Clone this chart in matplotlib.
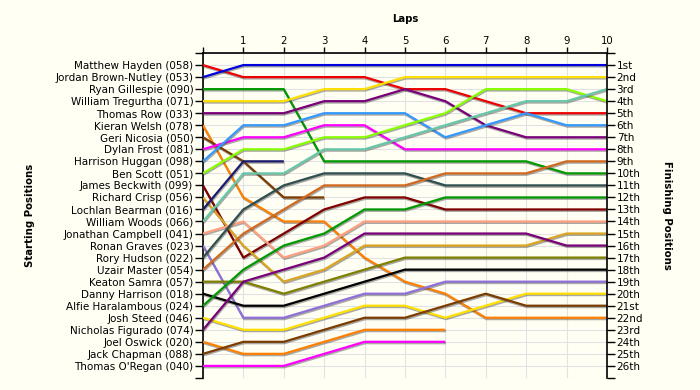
import numpy as np
import matplotlib
matplotlib.use('Agg')
import matplotlib.pyplot as plt
import matplotlib.patheffects as pe

laps = list(range(0, 11))

starters = ['Matthew Hayden (058)', 'Jordan Brown-Nutley (053)', 'Ryan Gillespie (090)',
            'William Tregurtha (071)', 'Thomas Row (033)', 'Kieran Welsh (078)',
            'Geri Nicosia (050)', 'Dylan Frost (081)', 'Harrison Huggan (098)',
            'Ben Scott (051)', 'James Beckwith (099)', 'Richard Crisp (056)',
            'Lochlan Bearman (016)', 'William Woods (066)', 'Jonathan Campbell (041)',
            'Ronan Graves (023)', 'Rory Hudson (022)', 'Uzair Master (054)',
            'Keaton Samra (057)', 'Danny Harrison (018)', 'Alfie Haralambous (024)',
            'Josh Steed (046)', 'Nicholas Figurado (074)', 'Joel Oswick (020)',
            'Jack Chapman (088)', "Thomas O'Regan (040)"]

finish_labels = ['1st', '2nd', '3rd'] + ['%dth' % i for i in range(4, 21)] + \
                ['21st', '22nd', '23rd', '24th', '25th', '26th']

# position at end of each lap (lap 0 = grid), shorter list = retired
hayden = [1, 2, 2, 2, 2, 3, 3, 4, 5, 5, 5]
brown_nutley = [2, 1, 1, 1, 1, 1, 1, 1, 1, 1, 1]
gillespie = [3, 3, 3, 9, 9, 9, 9, 9, 9, 10, 10]
tregurtha = [4, 4, 4, 3, 3, 2, 2, 2, 2, 2, 2]
row = [5, 5, 5, 4, 4, 3, 4, 6, 7, 7, 7]
welsh = [6, 12, 14, 14, 17, 19, 20, 22, 22, 22, 22]
nicosia = [7, 9, 12, 12]
frost = [8, 7, 7, 6, 6, 8, 8, 8, 8, 8, 8]
huggan = [9, 6, 6, 5, 5, 5, 7, 6, 5, 6, 6]
scott = [10, 8, 8, 7, 7, 6, 5, 3, 3, 3, 4]
beckwith = [11, 17, 15, 13, 12, 12, 13, 13, 13, 13, 13]
crisp = [12, 16, 19, 18, 16, 16, 16, 16, 16, 15, 15]
bearman = [13, 9, 9]
woods = [14, 10, 10, 8, 8, 7, 6, 5, 4, 4, 3]
campbell = [15, 14, 17, 16, 14, 14, 14, 14, 14, 14, 14]
graves = [16, 22, 22, 21, 20, 20, 19, 19, 19, 19, 19]
hudson = [17, 13, 11, 10, 10, 10, 11, 11, 11, 11, 11]
master = [18, 15, 13, 11, 11, 11, 10, 10, 10, 9, 9]
samra = [19, 19, 20, 19, 18, 17, 17, 17, 17, 17, 17]
harrison = [20, 21, 21, 20, 19, 18, 18, 18, 18, 18, 18]
haralambous = [21, 18, 16, 15, 13, 13, 12, 12, 12, 12, 12]
steed = [22, 23, 23, 22, 21, 21, 22, 21, 20, 20, 20]
figurado = [23, 19, 18, 17, 15, 15, 15, 15, 15, 16, 16]
oswick = [24, 25, 25, 24, 23, 23, 23]
chapman = [25, 24, 24, 23, 22, 22, 21, 20, 21, 21, 21]
oregan = [26, 26, 26, 25, 24, 24, 24]

colors = ['#EE0000', '#0000DD', '#009900', '#FFE000', '#7A007A', '#FF8000',
          '#7A3C00', '#FF00FF', '#3399FF', '#88FF00', '#800000', '#DAA520',
          '#1A1A6E', '#66C8A8', '#FFA080', '#9070D8', '#2F4F4F', '#D2691E',
          '#7F7F00', '#000000', '#009900', '#FFE000', '#7A007A', '#FF8000',
          '#7A3C00', '#FF00FF']

drivers = [hayden, brown_nutley, gillespie, tregurtha, row, welsh, nicosia, frost,
           huggan, scott, beckwith, crisp, bearman, woods, campbell, graves, hudson,
           master, samra, harrison, haralambous, steed, figurado, oswick, chapman, oregan]

bg = '#FFFFF4'
fig = plt.figure(figsize=(7, 3.9), dpi=100, facecolor=bg)
ax = fig.add_axes([0.29, 0.031, 0.577, 0.833], facecolor=bg)

shadow = [pe.SimpleLineShadow(offset=(0.5, -1.0), shadow_color='#444444', alpha=0.45),
          pe.Normal()]
for pos, c in zip(drivers, colors):
    ax.plot(laps[:len(pos)], pos, color=c, lw=1.6, solid_capstyle='butt',
            solid_joinstyle='round', path_effects=shadow, zorder=3)

ax.set_xlim(0, 10)
ax.set_ylim(27, 0)

ax.set_xticks(range(0, 11))
ax.set_xticklabels([''] + [str(i) for i in range(1, 11)])
ax.xaxis.tick_top()
ax.tick_params(axis='x', length=4, width=1, pad=1, labelsize=7.3, colors='black')

ax.set_yticks(range(0, 28))
ax.set_yticklabels([''] + starters + [''])
ax.tick_params(axis='y', length=6, width=1, pad=1, labelsize=7.5)

ax2 = ax.twinx()
ax2.set_ylim(27, 0)
ax2.set_yticks(range(0, 28))
ax2.set_yticklabels([''] + finish_labels + [''])
ax2.tick_params(axis='y', length=6, width=1, pad=1, labelsize=7.5)

for a in (ax, ax2):
    a.spines['bottom'].set_visible(False)
ax.spines['right'].set_visible(False)
ax2.spines['top'].set_visible(False)
ax2.spines['left'].set_visible(False)
ax.spines['left'].set_linewidth(1.2)
ax2.spines['right'].set_linewidth(1.2)
ax.spines['top'].set_linewidth(1.2)

ax.grid(True, color='#E2E2E2', lw=0.8, zorder=0)
ax.set_axisbelow(True)

fig.text(405 / 700, 1 - 19 / 390, 'Laps', ha='center', va='center',
         fontsize=7.3, fontweight='bold')
fig.text(30 / 700, 1 - 215 / 390, 'Starting Positions', ha='center', va='center',
         rotation=90, fontsize=7.3, fontweight='bold')
fig.text(667 / 700, 1 - 215 / 390, 'Finishing Positions', ha='center', va='center',
         rotation=270, fontsize=7.3, fontweight='bold')

fig.savefig('out.png', dpi=100, facecolor=bg)
